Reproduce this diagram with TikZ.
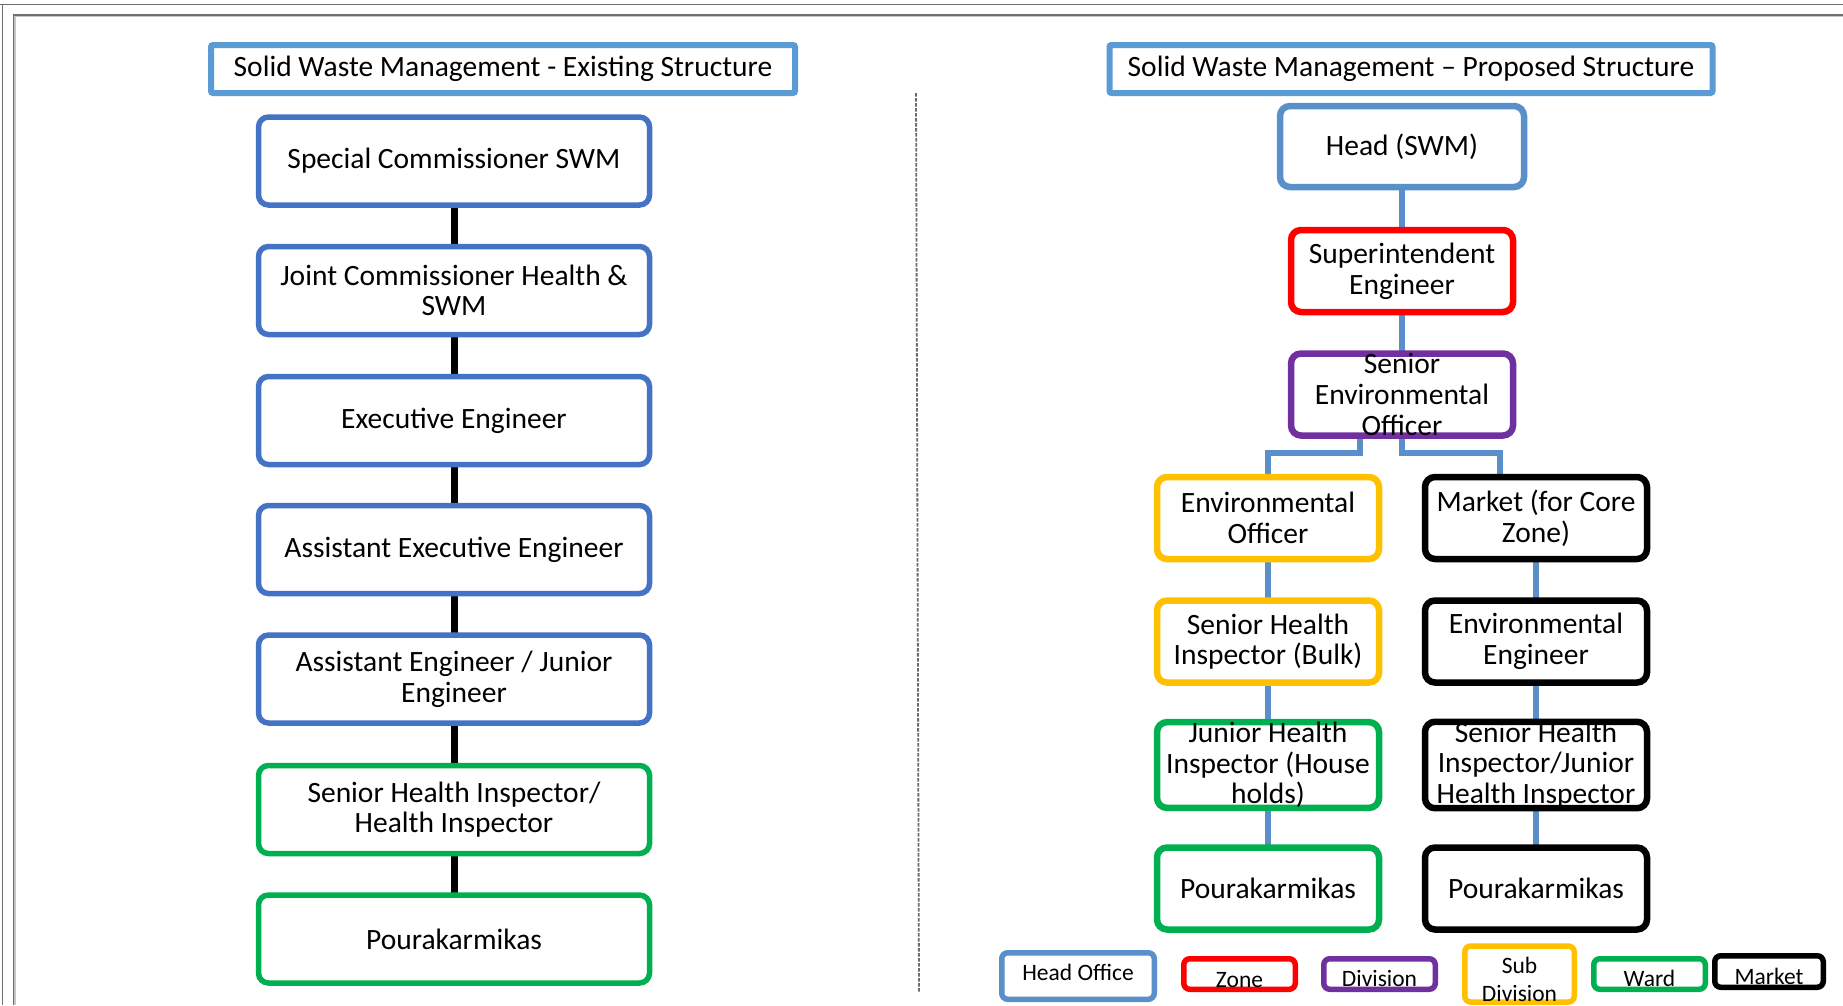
\documentclass[tikz,border=0pt]{standalone}
\usepackage{fontspec}
\setmainfont{Carlito}
\usetikzlibrary{backgrounds}
\definecolor{oldblue}{HTML}{4472C4}
\definecolor{titleblue}{HTML}{5B9BD5}
\definecolor{headblue}{HTML}{5A90C9}
\definecolor{zonered}{HTML}{FF0000}
\definecolor{divpurple}{HTML}{7030A0}
\definecolor{subyellow}{HTML}{FFC000}
\definecolor{wardgreen}{HTML}{00B050}
\definecolor{framegray}{HTML}{6E6E6E}
\begin{document}
\begin{tikzpicture}[x=1pt,y=-1pt,
  every node/.style={inner sep=0pt,outer sep=0pt},
  boxbase/.style={draw,fill=white,align=center,font=\fontsize{29.5}{30.6}\selectfont},
  titlebox/.style={boxbase,draw=titleblue,line width=6pt,rounded corners=2pt,minimum height=48pt},
  oldbox/.style={boxbase,draw=oldblue,line width=5.5pt,rounded corners=10pt,minimum width=391pt,minimum height=88pt},
  newbox/.style={boxbase,line width=6.5pt,rounded corners=10pt,minimum width=222pt,minimum height=82pt},
  keybox/.style={draw,fill=white,line width=5.5pt,rounded corners=6pt,minimum width=111.5pt,minimum height=30.5pt},
  keytext/.style={anchor=base,font=\fontsize{23.5}{28}\selectfont},
  oldlink/.style={line width=7pt,black},
  newlink/.style={line width=6pt,headblue},
]
\useasboundingbox (0,0) rectangle (1843,1005);

% ---------- titles ----------
\node[titlebox,minimum width=584pt] (titleL) at (503,69) {Solid Waste Management - Existing Structure};
\node[titlebox,minimum width=603pt] (titleR) at (1411,69) {Solid Waste Management -- Proposed Structure};

% ---------- existing structure ----------
\node[oldbox] (sc)  at (454,161)   {Special Commissioner SWM};
\node[oldbox] (jc)  at (454,290.5) {Joint Commissioner Health \&\\SWM};
\node[oldbox] (ee)  at (454,420.5) {Executive Engineer};
\node[oldbox] (aee) at (454,549.5) {Assistant Executive Engineer};
\node[oldbox] (ae)  at (454,679)   {Assistant Engineer / Junior\\Engineer};
\node[oldbox,draw=wardgreen] (shi) at (454,809.5) {Senior Health Inspector/\\Health Inspector};
\node[oldbox,draw=wardgreen] (pkL) at (454,939)   {Pourakarmikas};

% ---------- proposed structure ----------
\node[newbox,draw=headblue,minimum width=244pt,minimum height=81pt] (head) at (1402,146.5) {Head (SWM)};
\node[newbox,draw=zonered]   (sup) at (1402,271)   {Superintendent\\Engineer};
\node[newbox,draw=divpurple] (seo) at (1402,394.5) {Senior\\Environmental\\Officer};

\node[newbox,draw=subyellow] (eo)  at (1268,518)   {Environmental\\Officer};
\node[newbox,draw=subyellow] (shb) at (1268,641.5) {Senior Health\\Inspector (Bulk)};
\node[newbox,draw=wardgreen] (jhi) at (1268,765)   {Junior Health\\Inspector (House\\holds)};
\node[newbox,draw=wardgreen] (pk1) at (1268,888.5) {Pourakarmikas};

\node[newbox,draw=black] (mk)  at (1536,518)   {Market (for Core\\Zone)};
\node[newbox,draw=black] (env) at (1536,641.5) {Environmental\\Engineer};
\node[newbox,draw=black] (shj) at (1536,765)   {Senior Health\\Inspector/Junior\\Health Inspector};
\node[newbox,draw=black] (pk2) at (1536,888.5) {Pourakarmikas};

% ---------- key ----------
\node[keybox,draw=headblue,minimum width=152.5pt,minimum height=46.5pt] (kHead) at (1078,976) {};
\node[keybox,draw=zonered]   (kZone) at (1239.5,974) {};
\node[keybox,draw=divpurple] (kDiv)  at (1379.5,974) {};
\node[keybox,draw=subyellow,minimum width=109.5pt,minimum height=56pt] (kSub) at (1519.5,974) {};
\node[keybox,draw=wardgreen] (kWard) at (1649.5,974) {};
\node[keybox,draw=black,minimum width=108.5pt,minimum height=31.5pt] (kMkt) at (1769,971.5) {};

\node[keytext] (tHead) at (1078,980)   {Head Office};
\node[keytext] (tZone) at (1239.5,987) {Zone};
\node[keytext] (tDiv)  at (1379.5,986) {Division};
\node[keytext] (tSub1) at (1519.5,973) {Sub};
\node[keytext] (tSub2) at (1519.5,1001){Division};
\node[keytext] (tWard) at (1649.5,986) {Ward};
\node[keytext] (tMkt)  at (1769,984)   {Market};

% ---------- connectors, frame and divider behind the boxes ----------
\begin{pgfonlayer}{background}
  \fill[white] (0,0) rectangle (1843,1005);
  % page frame
  \draw[framegray,line width=1.2pt] (0,4.3) -- (1843,4.3);
  \draw[framegray,line width=1.2pt] (2.7,4.3) -- (2.7,1005);
  \draw[gray!45,line width=3pt] (14,15.5) -- (1843,15.5);
  \draw[gray!45,line width=3pt] (14,15.5) -- (14,1005);
  \draw[framegray,line width=1.4pt] (13.3,14.8) -- (1843,14.8);
  \draw[framegray,line width=1.4pt] (13.3,14.8) -- (13.3,1005);
  % divider between the two charts
  \coordinate (divTop) at (916,93);
  \coordinate (divBot) at (919,992);
  \draw[gray!85!black,line width=1.8pt,dash pattern=on 3.5pt off 1.5pt] (divTop) -- (divBot);

  % existing chain
  \draw[oldlink] (sc) -- (jc);
  \draw[oldlink] (jc) -- (ee);
  \draw[oldlink] (ee) -- (aee);
  \draw[oldlink] (aee) -- (ae);
  \draw[oldlink] (ae) -- (shi);
  \draw[oldlink] (shi) -- (pkL);

  % proposed chain
  \draw[newlink] (head) -- (sup);
  \draw[newlink] (sup) -- (seo);
  \draw[newlink] ([xshift=-42pt]seo.south) -- ++(0,17.5) -| (eo.north);
  \draw[newlink] (seo.south) -- ++(0,17.5) -| ([xshift=-36pt]mk.north);
  \draw[newlink] (eo) -- (shb);
  \draw[newlink] (shb) -- (jhi);
  \draw[newlink] (jhi) -- (pk1);
  \draw[newlink] (mk) -- (env);
  \draw[newlink] (env) -- (shj);
  \draw[newlink] (shj) -- (pk2);
\end{pgfonlayer}
\end{tikzpicture}
\end{document}
